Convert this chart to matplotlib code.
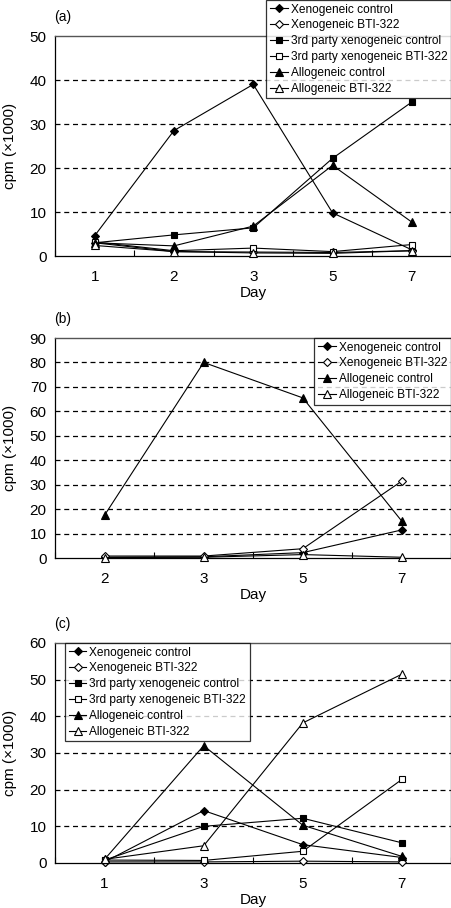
import numpy as np
import matplotlib
matplotlib.use("Agg")
import matplotlib.pyplot as plt

plt.rcParams['font.family'] = ['Liberation Sans', 'DejaVu Sans']

# panel (a)
days_a = ["1", "2", "3", "5", "7"]
xeno_ctrl_a = [4.6, 28.5, 39.0, 9.8, 1.4]
xeno_bti_a = [3.0, 1.0, 0.9, 0.8, 1.2]
third_ctrl_a = [3.0, 4.8, 6.4, 22.2, 35.0]
third_bti_a = [3.2, 1.2, 1.8, 1.0, 2.6]
allo_ctrl_a = [3.0, 2.3, 6.8, 20.6, 7.7]
allo_bti_a = [2.4, 1.0, 0.7, 0.6, 1.2]

# panel (b)
days_b = ["2", "3", "5", "7"]
xeno_ctrl_b = [0.3, 0.5, 2.2, 11.5]
xeno_bti_b = [0.8, 0.8, 3.8, 31.5]
allo_ctrl_b = [17.5, 80.0, 65.5, 15.0]
allo_bti_b = [0.2, 0.3, 1.4, 0.3]

# panel (c)
days_c = ["1", "3", "5", "7"]
xeno_ctrl_c = [0.3, 14.3, 5.0, 1.5]
xeno_bti_c = [0.3, 0.3, 0.5, 0.3]
third_ctrl_c = [0.8, 10.0, 12.2, 5.5]
third_bti_c = [0.8, 0.7, 3.2, 22.8]
allo_ctrl_c = [1.0, 32.0, 10.3, 1.8]
allo_bti_c = [1.0, 4.7, 38.2, 51.5]

names = ["Xenogeneic control", "Xenogeneic BTI-322",
         "3rd party xenogeneic control", "3rd party xenogeneic BTI-322",
         "Allogeneic control", "Allogeneic BTI-322"]
# marker, filled?, size
styles = {
    "Xenogeneic control": ("D", True, 4.5),
    "Xenogeneic BTI-322": ("D", False, 4.5),
    "3rd party xenogeneic control": ("s", True, 4.3),
    "3rd party xenogeneic BTI-322": ("s", False, 4.3),
    "Allogeneic control": ("^", True, 5.5),
    "Allogeneic BTI-322": ("^", False, 5.5),
}

W, H = 452, 908
fig = plt.figure(figsize=(W / 100, H / 100), dpi=100)


def make_axes(top_px):
    return fig.add_axes([55 / W, 1 - (top_px + 220) / H, 396.5 / W, 220 / H])


def draw(ax, days, series, ymax, label, leg_loc, leg_anchor):
    x = np.arange(len(days))
    for name, vals in series:
        m, filled, ms = styles[name]
        ax.plot(x, vals, color='black', lw=0.8, marker=m, ms=ms,
                mfc='black' if filled else 'white', mec='black', mew=0.8,
                label=name, clip_on=False, zorder=3)
    ax.set_xlim(-0.5, len(days) - 0.5)
    ax.set_ylim(0, ymax)
    ax.set_yticks(np.arange(0, ymax + 1, 10))
    ax.set_xticks(x)
    ax.set_xticklabels(days)
    ax.set_xticks(np.arange(-0.5, len(days)), minor=True)
    ax.tick_params(axis='x', which='major', length=0, pad=10, labelsize=11)
    ax.tick_params(axis='x', which='minor', length=4.5, direction='in', width=0.8)
    ax.tick_params(axis='y', length=0, pad=6, labelsize=11)
    for yv in np.arange(10, ymax, 10):
        ax.axhline(yv, color='black', lw=0.9, ls=(0, (4, 3)), zorder=1)
    for s in ['top', 'right']:
        ax.spines[s].set_color('#555555')
        ax.spines[s].set_linewidth(1.0)
    ax.spines['left'].set_linewidth(0.9)
    ax.spines['bottom'].set_linewidth(0.9)
    ax.set_ylabel("cpm (\u00d71000)", fontsize=11)
    ax.yaxis.set_label_coords(-0.097, 0.5)
    ax.set_xlabel("Day", fontsize=11, va='top')
    ax.xaxis.set_label_coords(0.5, -0.137)
    ax.text(-0.003, 1.118, label, transform=ax.transAxes, fontsize=10,
            ha='left', va='top')
    leg = ax.legend(loc=leg_loc, bbox_to_anchor=leg_anchor,
                    bbox_transform=fig.transFigure, fontsize=8.6,
                    frameon=True, fancybox=False, edgecolor='black',
                    borderpad=0.3, labelspacing=0.32, handlelength=1.5,
                    handletextpad=0.25, borderaxespad=0, numpoints=1)
    leg.get_frame().set_linewidth(0.9)
    leg.set_zorder(5)


ax_a = make_axes(36)
draw(ax_a, days_a,
     list(zip(names, [xeno_ctrl_a, xeno_bti_a, third_ctrl_a,
                      third_bti_a, allo_ctrl_a, allo_bti_a])),
     50, "(a)", 'upper right', (451 / W, 1.0))

ax_b = make_axes(338)
draw(ax_b, days_b,
     list(zip([names[0], names[1], names[4], names[5]],
              [xeno_ctrl_b, xeno_bti_b, allo_ctrl_b, allo_bti_b])),
     90, "(b)", 'upper right', (451 / W, 1 - 338 / H))

ax_c = make_axes(643)
draw(ax_c, days_c,
     list(zip(names, [xeno_ctrl_c, xeno_bti_c, third_ctrl_c,
                      third_bti_c, allo_ctrl_c, allo_bti_c])),
     60, "(c)", 'upper left', (65 / W, 1 - 643 / H))

fig.savefig("out.png", dpi=100)
